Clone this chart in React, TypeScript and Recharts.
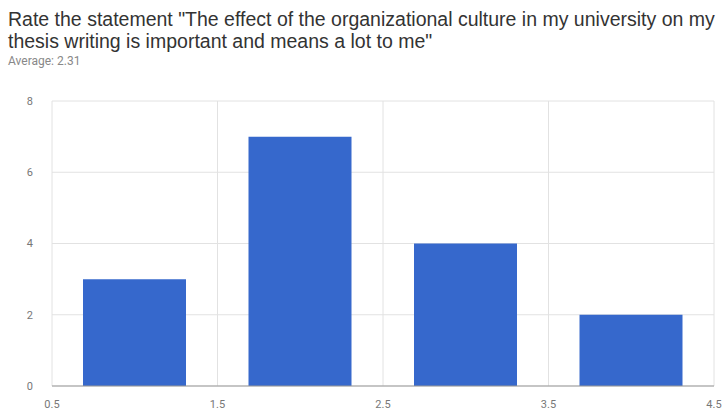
import { Bar, BarChart, CartesianGrid, XAxis, YAxis } from "recharts";

const ratings = [1, 2, 3, 4];
const counts = [3, 7, 4, 2];
const xTicks = [0.5, 1.5, 2.5, 3.5, 4.5];
const yTicks = [0, 2, 4, 6, 8];

const data = ratings.map((rating, i) => ({ rating, count: counts[i] }));

const App = () => {
  return (
    <div
      style={{
        position: "fixed",
        left: 0,
        top: 0,
        width: 724,
        height: 411,
        background: "#fff",
        fontFamily: "Roboto, Arial, sans-serif",
        overflow: "hidden"
      }}
    >
      <div
        style={{
          position: "absolute",
          left: 8,
          top: 8,
          fontFamily: "'Liberation Sans', Arial, sans-serif",
          fontSize: 19.5,
          lineHeight: "22px",
          color: "#333",
          whiteSpace: "nowrap"
        }}
      >
        <div>Rate the statement "The effect of the organizational culture in my university on my</div>
        <div>thesis writing is important and means a lot to me"</div>
      </div>
      <div style={{ position: "absolute", left: 8, top: 54, fontSize: 12, color: "#888" }}>
        Average: 2.31
      </div>
      <div style={{ position: "absolute", left: 0, top: 88 }}>
        <BarChart
          width={724}
          height={323}
          data={data}
          margin={{ top: 13, right: 10, left: 12, bottom: 5 }}
          style={{ overflow: "visible" }}
        >
          <CartesianGrid stroke="#e2e2e2" />
          <XAxis
            dataKey="rating"
            type="number"
            domain={[0.5, 4.5]}
            ticks={xTicks}
            tickFormatter={(v: number) => v.toFixed(1)}
            axisLine={{ stroke: "#999" }}
            tickLine={false}
            tickSize={0}
            tickMargin={14}
            height={20}
            tick={{ fill: "#777", fontSize: 11 }}
          />
          <YAxis
            domain={[0, 8]}
            ticks={yTicks}
            axisLine={false}
            tickLine={false}
            tickSize={0}
            tickMargin={19}
            width={40}
            tick={{ fill: "#777", fontSize: 11 }}
          />
          <Bar dataKey="count" fill="#3668cc" barSize={103} isAnimationActive={false} />
        </BarChart>
      </div>
    </div>
  );
};

export default App;
